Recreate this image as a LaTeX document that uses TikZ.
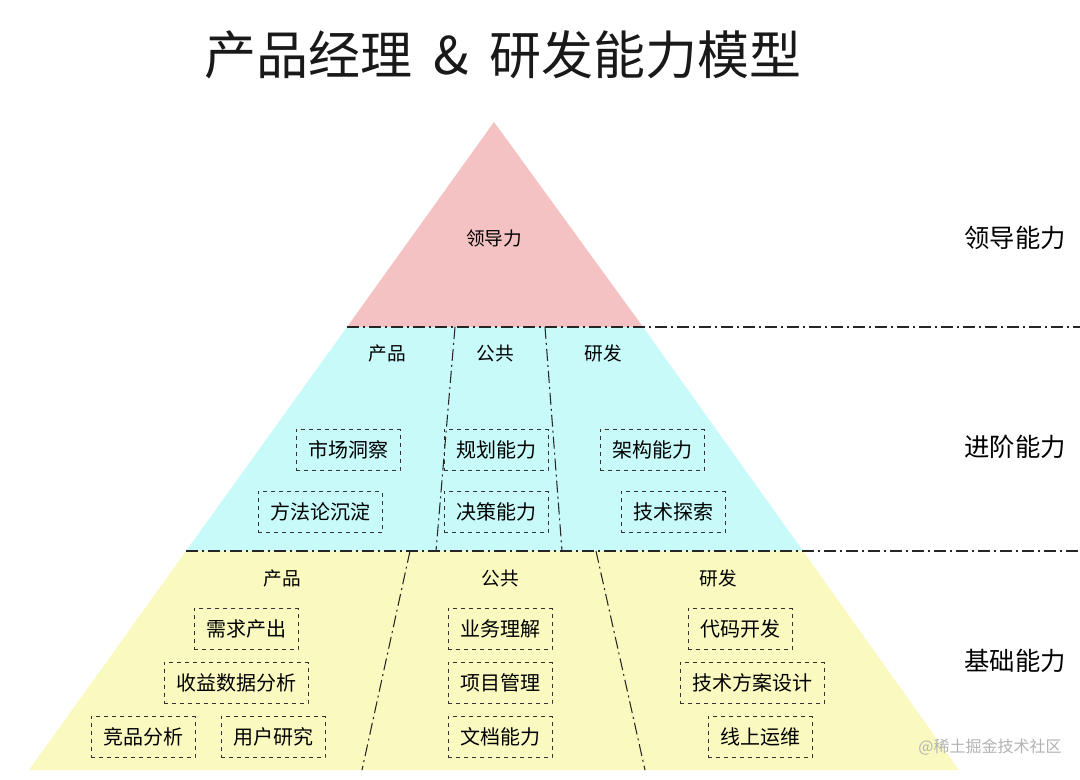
\documentclass[tikz,border=0pt]{standalone}
\usepackage{fontspec}
\newfontfamily\cjk{Noto Sans CJK SC}
\begin{document}
\begin{tikzpicture}[x=0.75pt,y=-0.75pt,
  bx/.style={draw=black!80,dashed,minimum height=31pt,inner xsep=9pt,font=\cjk\fontsize{15}{17}\selectfont},
  hd/.style={font=\cjk\fontsize{14}{16}\selectfont},
  rl/.style={font=\cjk\fontsize{19}{22}\selectfont},
  dd/.style={dash pattern=on 9pt off 3pt on 1.5pt off 3pt,black!85,line width=0.8pt}]
\useasboundingbox (0,0) rectangle (1080,779);
\fill[fill={rgb,255:red,244;green,194;blue,194}] (494,122) -- (347,327) -- (643,327) -- cycle;
\fill[fill={rgb,255:red,200;green,250;blue,250}] (347,327) -- (186,551) -- (803,551) -- (643,327) -- cycle;
\fill[fill={rgb,255:red,250;green,250;blue,192}] (186,551) -- (29,770) -- (959,770) -- (803,551) -- cycle;
\draw[dd] (347,327) -- (1080,327);
\draw[dd] (186,551) -- (1080,551);
\draw[dd] (455,327) -- (436,551);
\draw[dd] (545,327) -- (562,551);
\draw[dd] (410,551) -- (362,770);
\draw[dd] (596,551) -- (645,770);
\node[font=\cjk\fontsize{39}{44}\selectfont,text=black!90] (t) at (503,55) {产品经理\hspace{0.4em}\&\hspace{0.4em}研发能力模型};
\node[hd] (l) at (494,238) {领导力};
\node[hd] (h1) at (387,353) {产品};
\node[hd] (h2) at (495,353) {公共};
\node[hd] (h3) at (603,353) {研发};
\node[hd] (h4) at (282,578) {产品};
\node[hd] (h5) at (500,578) {公共};
\node[hd] (h6) at (718,578) {研发};
\node[rl] (r1) at (1015,238) {领导能力};
\node[rl] (r2) at (1015,447) {进阶能力};
\node[rl] (r3) at (1015,661) {基础能力};
\node[bx] (a1) at (348,450) {市场洞察};
\node[bx] (a2) at (320,512) {方法论沉淀};
\node[bx] (a3) at (496,450) {规划能力};
\node[bx] (a4) at (496,512) {决策能力};
\node[bx] (a5) at (652,450) {架构能力};
\node[bx] (a6) at (673,512) {技术探索};
\node[bx] (b1) at (246,629) {需求产出};
\node[bx] (b2) at (236,683) {收益数据分析};
\node[bx] (b3) at (143,737) {竞品分析};
\node[bx] (b4) at (273,737) {用户研究};
\node[bx] (b5) at (500,629) {业务理解};
\node[bx] (b6) at (500,683) {项目管理};
\node[bx] (b7) at (500,737) {文档能力};
\node[bx] (b8) at (740,629) {代码开发};
\node[bx] (b9) at (752,683) {技术方案设计};
\node[bx] (b10) at (760,737) {线上运维};
\node[font=\cjk\fontsize{12}{14}\selectfont,text=black!30] (w) at (990,747) {@稀土掘金技术社区};
\end{tikzpicture}
\end{document}
